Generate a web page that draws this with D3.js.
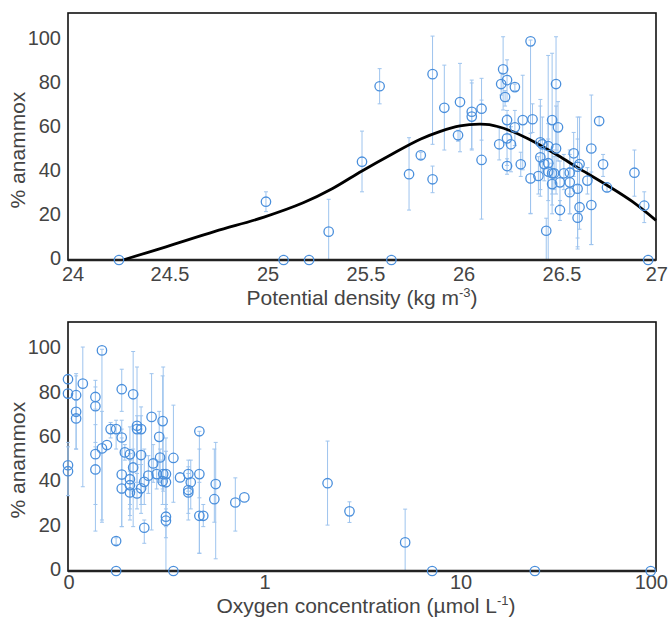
<!DOCTYPE html>
<html><head><meta charset="utf-8">
<script src="https://cdn.jsdelivr.net/npm/d3@7"></script>
<style>body{margin:0;background:#fff}</style>
</head><body>
<svg id="c" width="670" height="617"></svg>
<script>
// ---------- data ----------
const densityTicks = [24, 24.5, 25, 25.5, 26, 26.5, 27];
const anammoxTicks = [0, 20, 40, 60, 80, 100];
const oxygenTicks = [0.1, 1, 10, 100];
const oxygenTickLabels = ["0", "1", "10", "100"];

// top panel: potential density vs % anammox (value, lower, upper)
const densX = [24.26,25.01,25.10,25.23,25.33,25.50,25.59,25.65,25.74,25.80,25.86,25.86,25.92,25.99,26.00,26.06,26.06,26.11,26.11,26.20,26.21,26.22,26.23,26.24,26.24,26.24,26.26,26.24,26.28,26.28,26.31,26.32,26.36,26.36,26.37,26.40,26.41,26.41,26.42,26.43,26.44,26.45,26.45,26.45,26.47,26.49,26.50,26.49,26.47,26.47,26.48,26.51,26.51,26.53,26.56,26.56,26.56,26.58,26.60,26.61,26.60,26.61,26.60,26.65,26.67,26.67,26.71,26.73,26.75,26.89,26.94,26.96];
const densVal = [0,26.5,0,0,12.9,44.7,79,0,39,47.6,84.5,36.7,69.2,56.7,71.8,67.4,65.2,68.8,45.5,52.6,80,86.7,74.1,81.8,63.6,55.3,52.6,42.7,78.6,60.3,43.5,63.6,37.1,99.4,64,38.2,46.7,53.5,52.6,43.6,13.3,51.8,44,40.2,63.6,80,60.3,50.7,39.4,34.5,39.4,35.3,22.7,39.4,39.7,35.3,30.8,48.5,42.4,43.6,32.4,24,19.2,36.1,25,50.7,63.2,43.5,33,39.7,24.7,0];
const densLo  = [0,22,0,0,0,31,71,0,22.7,46,52.6,30.6,50,54,49.2,50,50.5,54.5,18.6,45.5,75,68.2,70,72,57,43,40.1,39,77,52,38,41,21.2,21,58,30,29,32,40,36,0,38,0,27,21,50,45,30,30,25,32,25,18,32,30,21,21,38,6,21,10,14,5,30,7,7,61,38,31,29,17,0];
const densHi  = [0,31,0,0,27.6,58.6,87,0,55.6,49,101.8,42.7,88.6,59,89.4,81.8,80.5,82.6,72.7,60,85,101.5,77,91,68,66,60.6,46,80,68,49,84,57.6,100,71,47,73,70,65,51,19,62,93,55,94,101.5,72,70,50,44,47,45,27,48,50,48,42,58,65,65,55,34,34,42,40,75,65,48,35,50,31,0];

// fitted curve through the top panel
const fitX = [24.28,24.5,24.75,25.0,25.2,25.35,25.5,25.65,25.8,25.9,26.0,26.1,26.15,26.25,26.35,26.5,26.6,26.75,26.88,27.0];
const fitY = [0,6,13,19.5,26,32.5,40.5,48,55,58.5,61,61.8,61.5,59,55,47.5,42,34,26.5,18];

// bottom panel: oxygen concentration vs % anammox
const oxyX = [0.1,0.1,0.1,0.1,0.11,0.11,0.11,0.119,0.138,0.138,0.138,0.138,0.149,0.149,0.158,0.165,0.176,0.176,0.176,0.188,0.188,0.188,0.188,0.195,0.207,0.207,0.207,0.207,0.215,0.215,0.225,0.225,0.236,0.236,0.225,0.236,0.245,0.245,0.257,0.267,0.272,0.304,0.292,0.295,0.2835,0.306,0.316,0.304,0.316,0.316,0.316,0.345,0.345,0.373,0.411,0.411,0.411,0.423,0.468,0.468,0.468,0.49,0.567,0.558,0.714,0.794,2.11,2.73,5.25,7.21,24.1,94];
const oxyVal = [86.5,80,47.7,45,79.3,71.8,68.8,84.5,78.5,74.3,52.7,45.8,99.5,55.3,56.8,64,64,13.5,0,82,60.2,43.5,37.2,53.5,52.6,41.4,38.7,35.4,79.7,46.7,65.5,64,64,52.3,35,37.3,40.2,19.5,43,69.5,48.5,67.6,60.5,51.2,43.7,43.7,43.7,40.5,40,24.5,22.7,0,51,42.2,43.7,36.5,35.4,40,43.7,63,24.9,24.9,39.2,32.4,30.9,33.2,39.6,26.9,12.9,0,0,0];
const oxyLo  = [86.5,80,34,34,70,55,55,38,73,58,18,30,23,22,56.8,60,55,12,0,72,35,20,20,50,23,30,28,25,20,36,48,40,30,35,28,26,30,12.5,35,18.5,40,37,40,40,37,36,30,30,20,15,0,0,31,42.2,36,23,26,28,33,8,8,20,5.5,22,18,33.2,20.7,21.9,0,0,0,0];
const oxyHi  = [86.5,80,58,56,89,88,77,101,83,86,66,56,100,72,56.8,67,68,15,0,91,68,60,64,57,65,53,50,45,99,55,92,70,74,70,44,48,55,23,52,89,57,88,72,55,50,92,60,50,54,30,28,0,74.8,42.2,50,47,44,50,55,63,40,30,58,55,42,33.2,58.6,31.2,27.9,0,0,0];

// ---------- drawing ----------
const svg = d3.select("#c");
const W = 670, L = 68, R = 656;
const FONT = "'Liberation Sans', Arial, sans-serif";
const FS = 20;
const TXT = "#444";
const PT = "#4a8fdc", EB = "#9ec4ee";

function panel(top, bottom, xScale, xTicks, xLabels, title, sup, titleX, titleDy, xLabDy, xLabShift) {
  const y = d3.scaleLinear().domain([0, 112.3]).range([bottom, top]);
  const g = svg.append("g");
  g.append("rect").attr("x", L).attr("y", top).attr("width", R - L).attr("height", bottom - top)
    .attr("fill", "none").attr("stroke", "#111").attr("stroke-width", 1.6);
  g.selectAll(".yt").data(anammoxTicks).join("text")
    .attr("x", L - 7).attr("y", d => y(d) - 2).attr("dy", "0.35em")
    .attr("text-anchor", "end").attr("font-family", FONT).attr("font-size", FS).attr("fill", TXT)
    .text(d => d);
  const xl = g.selectAll(".xt").data(xTicks).join("text")
    .attr("y", bottom + xLabDy)
    .attr("text-anchor", "middle").attr("font-family", FONT).attr("font-size", FS).attr("fill", TXT)
    .text((d, i) => xLabels[i]);
  xl.each(function(d) {
    const w = this.getComputedTextLength();
    const cx = Math.max(L - 7 + w / 2 + 1, Math.min(xScale(d) + xLabShift, W - w / 2 - 2));
    d3.select(this).attr("x", cx);
  });
  g.append("text").attr("transform", `translate(25,${y(50)}) rotate(-90)`)
    .attr("text-anchor", "middle").attr("font-family", FONT).attr("font-size", FS + 1).attr("fill", TXT)
    .text("% anammox");
  const xt = g.append("text").attr("x", titleX).attr("y", bottom + titleDy)
    .attr("text-anchor", "middle").attr("font-family", FONT).attr("font-size", FS + 1).attr("fill", TXT);
  xt.append("tspan").text(title);
  xt.append("tspan").attr("dy", -8).attr("font-size", 13).text(sup);
  xt.append("tspan").attr("dy", 8).text(")");
  return {g, y};
}

function errorBars(g, xScale, y, xs, lo, hi) {
  const eb = g.append("g").attr("stroke", EB).attr("stroke-width", 1);
  d3.range(xs.length).filter(i => hi[i] - lo[i] > 0.5).forEach(i => {
    const cx = xScale(xs[i]);
    eb.append("line").attr("x1", cx).attr("x2", cx).attr("y1", y(lo[i])).attr("y2", y(hi[i]));
    eb.append("line").attr("x1", cx - 2).attr("x2", cx + 2).attr("y1", y(lo[i])).attr("y2", y(lo[i]));
    eb.append("line").attr("x1", cx - 2).attr("x2", cx + 2).attr("y1", y(hi[i])).attr("y2", y(hi[i]));
  });
}

function drawCircles(g, xScale, y, xs, ys) {
  g.append("g").selectAll("circle").data(d3.range(xs.length)).join("circle")
    .attr("cx", i => xScale(xs[i])).attr("cy", i => y(ys[i])).attr("r", 4.7)
    .attr("fill", "none").attr("stroke", PT).attr("stroke-width", 1.3);
}

// top panel
const xD = d3.scaleLinear().domain([24, 27]).range([L, R]);
const p1 = panel(13, 260, xD, densityTicks, densityTicks.map(d => String(d)),
  "Potential density (kg m", "-3", 362, 45, 21, 4);
errorBars(p1.g, xD, p1.y, densX, densLo, densHi);
p1.g.append("line").attr("x1", L).attr("x2", R).attr("y1", p1.y(0)).attr("y2", p1.y(0))
  .attr("stroke", "#222").attr("stroke-width", 2.6);
p1.g.append("path")
  .datum(d3.range(fitX.length))
  .attr("d", d3.line().x(i => xD(fitX[i])).y(i => p1.y(fitY[i])).curve(d3.curveCatmullRom))
  .attr("fill", "none").attr("stroke", "#000").attr("stroke-width", 2.8);
drawCircles(p1.g, xD, p1.y, densX, densVal);

// bottom panel
const xO = d3.scaleLog().domain([0.1, 100]).range([L, R]);
const p2 = panel(322, 571, xO, oxygenTicks, oxygenTickLabels,
  "Oxygen concentration (\u00b5mol L", "-1", 366, 42, 18, 1);
errorBars(p2.g, xO, p2.y, oxyX, oxyLo, oxyHi);
p2.g.append("line").attr("x1", L).attr("x2", R).attr("y1", p2.y(0)).attr("y2", p2.y(0))
  .attr("stroke", "#222").attr("stroke-width", 2.6);
drawCircles(p2.g, xO, p2.y, oxyX, oxyVal);
</script>
</body></html>
